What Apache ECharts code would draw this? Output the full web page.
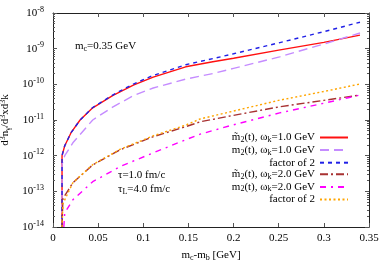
<!DOCTYPE html>
<html><head><meta charset="utf-8">
<script src="https://cdn.jsdelivr.net/npm/echarts@6/dist/echarts.min.js"></script>
<style>html,body{margin:0;padding:0;background:#fff}#c{width:389px;height:273px}</style>
</head><body><div id="c"></div>
<script>
const FONT = 'Liberation Serif';

// ---- data ----
const redX   = [0.01,0.01,0.013,0.02,0.03,0.044,0.066,0.089,0.111,0.147,0.177,0.2,0.25,0.3,0.34];
const redY   = [1e-14,1e-12,1.9e-12,4.4e-12,1.0e-11,2.2e-11,4.8e-11,9.5e-11,1.6e-10,3.1e-10,4.3e-10,5.4e-10,9.1e-10,1.5e-9,2.4e-9];
const blueY  = [1e-14,1e-12,1.9e-12,4.4e-12,1.0e-11,2.24e-11,5.0e-11,1.02e-10,1.78e-10,3.55e-10,5.25e-10,7.2e-10,1.45e-9,3.0e-9,5.5e-9];
const lavX   = [0.01,0.01,0.013,0.022,0.044,0.066,0.089,0.111,0.147,0.177,0.2,0.251,0.3,0.34];
const lavY   = [1e-14,5.6e-13,1e-12,2.3e-12,1e-11,2.3e-11,4.8e-11,7.9e-11,1.4e-10,2.0e-10,2.8e-10,5.9e-10,1.35e-9,2.75e-9];
const lowX   = [0.01,0.011,0.022,0.044,0.074,0.111,0.147,0.163,0.2,0.251,0.3,0.34];
const brownY = [1e-14,6.3e-14,1.74e-13,5.5e-13,1.45e-12,3.4e-12,6.5e-12,8.9e-12,1.35e-11,2.35e-11,3.55e-11,5.0e-11];
const orangeY= [1e-14,4.5e-14,1.74e-13,5.6e-13,1.5e-12,3.6e-12,7.2e-12,1.07e-11,1.78e-11,3.6e-11,6.3e-11,1.02e-10];
const magX   = [0.012,0.013,0.022,0.044,0.074,0.111,0.147,0.163,0.196,0.251,0.3,0.34];
const magY   = [1e-14,2.5e-14,5.8e-14,1.86e-13,4.9e-13,1.2e-12,2.8e-12,4.0e-12,6.9e-12,1.58e-11,2.95e-11,5.0e-11];

const xTicks = [0,0.05,0.1,0.15,0.2,0.25,0.3,0.35];
const yMajor = [1e-14,1e-13,1e-12,1e-11,1e-10,1e-9,1e-8];
const yMinor = [];
for (let e = -14; e < -8; e++) for (let m = 2; m <= 9; m++) yMinor.push(m * Math.pow(10, e));

const legendText = {
  r:  '{t|m\u0303}{s|2}{t|(t), ω}{s|k}{t|=1.0 GeV}',
  l:  '{t|m}{s|2}{t|(t), ω}{s|k}{t|=1.0 GeV}',
  b:  '{t|factor of 2}',
  br: '{t|m\u0303}{s|2}{t|(t), ω}{s|k}{t|=2.0 GeV}',
  m:  '{t|m}{s|2}{t|(t), ω}{s|k}{t|=2.0 GeV}',
  o:  '{t|factor of 2}'
};

const zip = (xs, ys) => xs.map((x, i) => [x, ys[i]]);

const richMain = {
  t: {fontFamily: FONT, fontSize: 11, color: '#000', lineHeight: 13},
  s: {fontFamily: FONT, fontSize: 8, color: '#000', verticalAlign: 'bottom'},
  p: {fontFamily: FONT, fontSize: 8, color: '#000', verticalAlign: 'top'}
};

function line(name, data, color, type, z) {
  return {
    name, type: 'line', data, symbol: 'none', showSymbol: false, z,
    xAxisIndex: 0, yAxisIndex: 0, clip: true,
    lineStyle: {color, width: 1.4, type}, itemStyle: {color}
  };
}

const axisLineStyle = {color: '#222', width: 1};
const tickStyle = {color: '#555', width: 1};

const chart = echarts.init(document.getElementById('c'), null, {renderer: 'canvas'});
chart.setOption({
  animation: false,
  backgroundColor: '#fff',
  grid: {left: 53, right: 20, top: 13, bottom: 46, containLabel: false, outerBoundsMode: 'none'},
  xAxis: [
    {type: 'value', min: 0, max: 0.35, interval: 0.05, position: 'bottom',
     axisLine: {show: true, onZero: false, lineStyle: axisLineStyle},
     axisTick: {show: true, inside: true, length: 4, lineStyle: tickStyle},
     axisLabel: {fontFamily: FONT, fontSize: 11, color: '#000', margin: 6,
       customValues: xTicks, formatter: v => String(+v.toFixed(2))},
     splitLine: {show: false},
     name: '{t|m}{s|c}{t|-m}{s|b}{t| [GeV]}', nameLocation: 'middle', nameGap: 22,
     nameTextStyle: {rich: richMain}},
    {type: 'value', min: 0, max: 0.35, interval: 0.05, position: 'top',
     axisLine: {show: true, onZero: false, lineStyle: axisLineStyle},
     axisTick: {show: true, inside: true, length: 4, lineStyle: tickStyle},
     axisLabel: {show: false}, splitLine: {show: false}}
  ],
  yAxis: [
    {type: 'log', logBase: 10, min: 1e-14, max: 1e-8, position: 'left', splitNumber: 6,
     axisLine: {show: true, onZero: false, lineStyle: axisLineStyle},
     axisTick: {show: true, inside: true, length: 4, lineStyle: tickStyle, customValues: yMajor},
     axisLabel: {margin: 9, customValues: yMajor,
       formatter: v => '{b|10}{p|' + Math.round(Math.log10(v)) + '}',
       rich: {b: {fontFamily: FONT, fontSize: 11, color: '#000', lineHeight: 15},
              p: {fontFamily: FONT, fontSize: 8, color: '#000', verticalAlign: 'top'}}},
     splitLine: {show: false},
     name: '{t|d}{p|3}{t|n}{s|γ}{t|/d}{p|3}{t|xd}{p|3}{t|k}', nameLocation: 'middle', nameGap: 34,
     nameTextStyle: {rich: richMain}},
    {type: 'log', logBase: 10, min: 1e-14, max: 1e-8, position: 'left',
     axisLine: {show: false, onZero: false},
     axisTick: {show: true, inside: true, length: 2, lineStyle: tickStyle, customValues: yMinor},
     axisLabel: {show: false}, splitLine: {show: false}},
    {type: 'log', logBase: 10, min: 1e-14, max: 1e-8, position: 'right',
     axisLine: {show: true, onZero: false, lineStyle: axisLineStyle},
     axisTick: {show: true, inside: true, length: 4, lineStyle: tickStyle, customValues: yMajor},
     axisLabel: {show: false}, splitLine: {show: false}},
    {type: 'log', logBase: 10, min: 1e-14, max: 1e-8, position: 'right',
     axisLine: {show: false, onZero: false},
     axisTick: {show: true, inside: true, length: 2, lineStyle: tickStyle, customValues: yMinor},
     axisLabel: {show: false}, splitLine: {show: false}}
  ],
  legend: {
    orient: 'vertical', right: 40, top: 132, padding: 0, itemGap: 0.6,
    itemWidth: 28, itemHeight: 8, align: 'right',
    data: ['r', 'l', 'b', 'br', 'm', 'o'],
    formatter: n => legendText[n],
    itemStyle: {opacity: 0},
    textStyle: {fontFamily: FONT, fontSize: 11, color: '#000', rich: richMain},
    selectedMode: false
  },
  graphic: [
    {type: 'text', left: 75, top: 41, style: {text: '{t|m}{s|c}{t|=0.35 GeV}', rich: richMain, font: '11px ' + FONT}},
    {type: 'text', left: 118, top: 170, style: {text: '{t|τ=1.0 fm/c}', rich: richMain, font: '11px ' + FONT}},
    {type: 'text', left: 118, top: 184, style: {text: '{t|τ}{s|L}{t|=4.0 fm/c}', rich: richMain, font: '11px ' + FONT}}
  ],
  series: [
    line('r', zip(redX, redY), '#ff1010', 'solid', 2),
    line('l', zip(lavX, lavY), '#c58cff', [9, 5], 3),
    line('b', zip(redX, blueY), '#2020e6', [4, 4], 4),
    line('br', zip(lowX, brownY), '#a83232', [8, 3, 2, 3], 5),
    line('m', zip(magX, magY), '#ff00ff', [6, 5, 2, 5], 6),
    line('o', zip(lowX, orangeY), '#ffa500', [2, 2.5], 7)
  ]
});
</script></body></html>
